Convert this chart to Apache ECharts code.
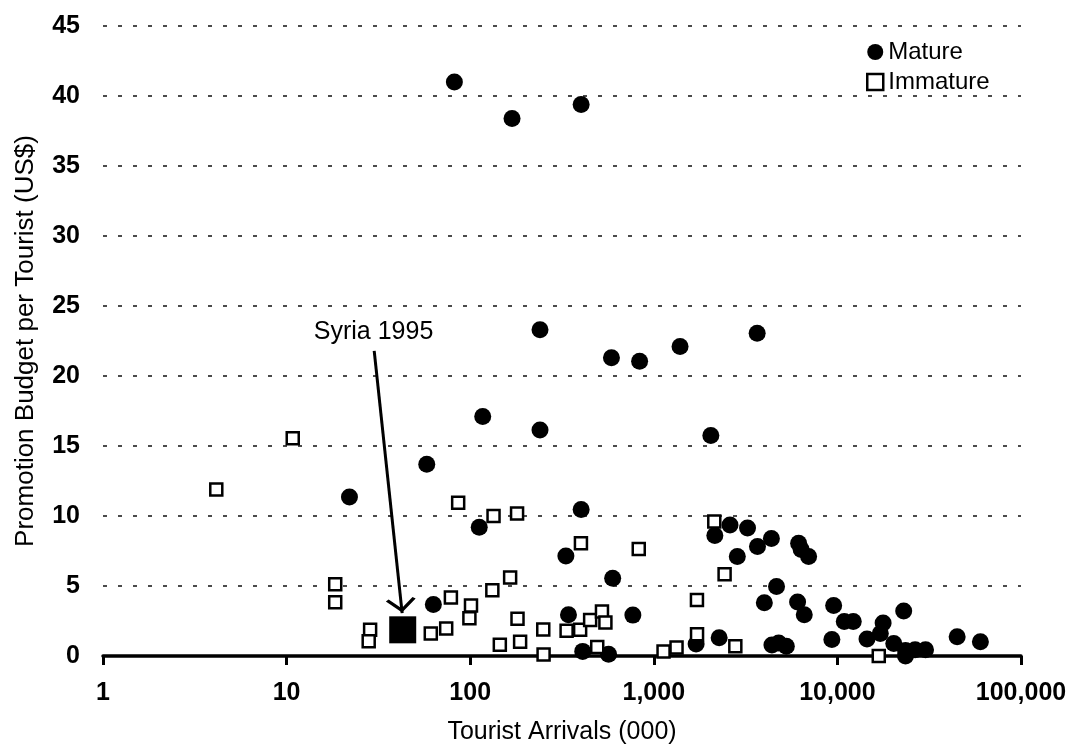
<!DOCTYPE html>
<html><head><meta charset="utf-8">
<script src="https://cdn.jsdelivr.net/npm/echarts@6/dist/echarts.min.js"></script>
<style>html,body{margin:0;padding:0;background:#fff}#c{width:1077px;height:750px}</style>
</head><body><div id="c"></div>
<script>
// Tourist arrivals (000) and promotion budget per tourist (US$)
const matureX = [82,169,402,240,588,837,1390,3656,240,2045,117,58,22,112,402,332,597,63,343,769,410,567,1700,2270,2150,2600,3240,4370,3670,2850,6150,6350,6970,4660,4000,6070,6600,9540,10900,12200,22970,17740,17130,14500,9330,44900,60100,4400,4790,5270,20280,23500,26500,30200,23500];
const matureY = [41.0,38.4,39.4,23.3,21.3,21.05,22.1,23.05,16.15,15.75,17.1,13.7,11.35,9.2,10.47,7.15,5.55,3.68,2.94,2.92,0.33,0.12,0.85,1.3,8.6,9.35,9.15,8.4,7.82,7.1,8.05,7.6,7.1,4.96,3.8,3.85,2.94,3.61,2.47,2.47,3.22,2.35,1.6,1.22,1.18,1.38,1.02,0.78,0.93,0.69,0.9,0.4,0.45,0.45,0.0];
const immatureX = [4.14,10.8,18.4,18.4,28.5,28,61,74,78.5,86,101,99,132,134,165,180,181,145,187,250,251,335,397,401,450,522,545,492,828,1130,1330,1718,1720,2135,2430,2780,16800];
const immatureY = [11.9,15.55,5.12,3.84,1.87,1.05,1.6,1.97,4.18,10.95,3.6,2.7,4.7,10.0,5.6,10.18,2.66,0.8,1.02,1.9,0.1,1.8,1.87,8.05,2.58,3.18,2.4,0.65,7.65,0.33,0.6,4.0,1.55,9.6,5.84,0.7,0.0];
const syriaX = [42.9];
const syriaY = [1.87];
const syriaLabel = 'Syria 1995';
const arrowFrom = [30, 21.8];
const arrowTo = [42.6, 3.06];
const seriesNames = ['Mature', 'Immature'];
const xTickValues = [1, 10, 100, 1000, 10000, 100000];
const yTickValues = [0, 5, 10, 15, 20, 25, 30, 35, 40, 45];

const FONT = '"Liberation Sans", Arial, Helvetica, sans-serif';
const zip = (xs, ys) => xs.map((x, i) => [x, ys[i]]);
const chevron = 'path://M10,16 L20,29 L18,30.8 L10,20.4 L2,30.8 L0,29 Z M10,0 L10,0.01';

const chart = echarts.init(document.getElementById('c'), null, {renderer: 'canvas'});
chart.setOption({
  animation: false,
  backgroundColor: '#fff',
  textStyle: {fontFamily: FONT, color: '#000'},
  grid: {left: 103, right: 56, top: 26, bottom: 92, containLabel: false},
  legend: {
    orient: 'vertical', left: 861, top: 35, itemGap: 6,
    itemWidth: 16, itemHeight: 16,
    textStyle: {fontFamily: FONT, fontSize: 24, color: '#000', lineHeight: 24},
    data: [
      {name: seriesNames[0], icon: 'circle', itemStyle: {color: '#000', opacity: 1}},
      {name: seriesNames[1], icon: 'rect', itemStyle: {color: '#fff', borderColor: '#000', borderWidth: 2.5, opacity: 1}}
    ]
  },
  xAxis: {
    type: 'log', logBase: 10,
    min: xTickValues[0], max: xTickValues[xTickValues.length - 1],
    name: 'Tourist Arrivals (000)', nameLocation: 'middle', nameGap: 64,
    nameTextStyle: {fontFamily: FONT, fontSize: 25, color: '#000'},
    axisLine: {show: true, onZero: false, lineStyle: {color: '#000', width: 3.5}},
    axisTick: {show: true, length: 9, lineStyle: {color: '#000', width: 3}},
    minorTick: {show: false},
    splitLine: {show: false},
    axisLabel: {
      margin: 25, fontFamily: FONT, fontSize: 25, fontWeight: 'bold', color: '#000',
      formatter: v => Math.round(v).toLocaleString('en-US')
    }
  },
  yAxis: {
    type: 'value', min: yTickValues[0], max: yTickValues[yTickValues.length - 1], interval: 5,
    name: 'Promotion Budget per Tourist (US$)', nameLocation: 'middle', nameGap: 64,
    nameTextStyle: {fontFamily: FONT, fontSize: 26, color: '#000'},
    axisLine: {show: false}, axisTick: {show: false},
    axisLabel: {margin: 23, fontFamily: FONT, fontSize: 25, fontWeight: 'bold', color: '#000'},
    splitLine: {show: true, lineStyle: {color: '#111', width: 1.5, type: [4, 11]}}
  },
  series: [
    {
      name: seriesNames[0], type: 'scatter', z: 2,
      symbol: 'circle', symbolSize: 17,
      itemStyle: {color: '#000', opacity: 1},
      data: zip(matureX, matureY)
    },
    {
      name: seriesNames[1], type: 'scatter', z: 3,
      symbol: 'rect', symbolSize: 12,
      itemStyle: {color: '#fff', borderColor: '#000', borderWidth: 2.5, opacity: 1},
      data: zip(immatureX, immatureY)
    },
    {
      name: syriaLabel, type: 'scatter', z: 4,
      symbol: 'rect', symbolSize: 27,
      itemStyle: {color: '#000', opacity: 1},
      data: zip(syriaX, syriaY),
      markLine: {
        silent: true, animation: false,
        symbol: ['none', chevron], symbolSize: [30, 30],
        lineStyle: {color: '#000', width: 3, type: 'solid', opacity: 1},
        label: {show: true, position: 'start', distance: 6, formatter: syriaLabel,
                fontFamily: FONT, fontSize: 25, color: '#000'},
        data: [[{coord: arrowFrom}, {coord: arrowTo}]]
      }
    }
  ]
});
</script>
</body></html>
